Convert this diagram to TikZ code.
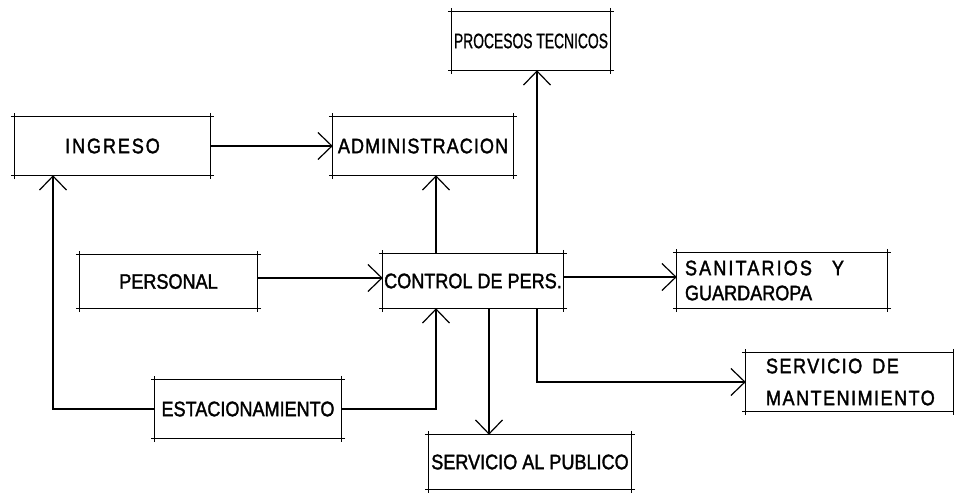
\documentclass[tikz,border=0pt]{standalone}
\usepackage{fontspec}
\setmainfont{Liberation Sans}
\newfontfamily\lett{Liberation Sans}[FakeStretch=0.86,FakeBold=1.6]
\newfontfamily\lettnarrow{Liberation Sans}[FakeStretch=0.66,FakeBold=0.8]
\usetikzlibrary{arrows.meta}
\tikzset{
  boxnode/.style={draw=none, rectangle, inner sep=0pt, font=\lett\fontsize{21}{25}\selectfont, anchor=center},
  boxline/.style={line width=1.2pt, shorten <=-4pt, shorten >=-4pt},
  conn/.style={line width=1.2pt},
  arr/.style={conn, -{Straight Barb[length=14pt,width=27pt,line width=1.2pt]}}
}
\newcommand\skbox[1]{%
  \foreach \a/\b in {north west/north east, north east/south east, south east/south west, south west/north west}
    {\draw[boxline] (#1.\a) -- (#1.\b);}}
\begin{document}
\begin{tikzpicture}[x=1pt,y=-1pt]
\useasboundingbox (0,0) rectangle (954,493);
\fill[white] (0,0) rectangle (954,493);
% boxes
\node[boxnode, minimum width=195pt, minimum height=58pt] (ing) at (112.5,146) {\addfontfeature{LetterSpace=9}INGRESO};
\node[boxnode, minimum width=180pt, minimum height=58pt] (adm) at (423,146) {\addfontfeature{LetterSpace=5}ADMINISTRACION};
\node[boxnode, minimum width=158pt, minimum height=58pt, font=\lettnarrow\fontsize{21}{25}\selectfont] (proc) at (531,41) {PROCESOS TECNICOS};
\node[boxnode, minimum width=180pt, minimum height=54pt] (ctrl) at (473,281) {CONTROL DE PERS.};
\node[boxnode, minimum height=55pt, text width=194pt, inner xsep=8pt, align=left] (san) at (782,280.5) {{\addfontfeature{LetterSpace=10}SANITARIOS\hspace{20pt}Y}\\GUARDAROPA};
\node[boxnode, minimum height=58pt, text width=167pt, inner xsep=20pt, align=left] (mant) at (849.5,382) {\addfontfeature{LetterSpace=7}SERVICIO\hspace{10pt}DE\\[7pt]MANTENIMIENTO};
\node[boxnode, minimum width=177pt, minimum height=53pt] (pers) at (168.5,281.5) {PERSONAL};
\node[boxnode, minimum width=186pt, minimum height=58pt] (est) at (248,409) {ESTACIONAMIENTO};
\node[boxnode, minimum width=202pt, minimum height=54pt] (pub) at (530,462) {SERVICIO AL PUBLICO};
\foreach \n in {ing,adm,proc,ctrl,san,mant,pers,est,pub} {\skbox{\n}}
% connectors
\draw[arr] (ing.east) -- (adm.west);
\draw[arr] (ctrl.north -| 436,0) -- (adm.south -| 436,0);
\draw[arr] (ctrl.north -| 537,0) -- (proc.south -| 537,0);
\draw[arr] (pers.east |- 0,278) -- (ctrl.west |- 0,278);
\draw[arr] (ctrl.east |- 0,277) -- (san.west |- 0,277);
\draw[arr] (ctrl.south -| 537,0) |- (mant.west);
\draw[arr] (ctrl.south -| 489,0) -- (pub.north -| 489,0);
\draw[arr] (est.west) -| (ing.south -| 53,0);
\draw[arr] (est.east) -| (ctrl.south -| 436,0);
\end{tikzpicture}
\end{document}
